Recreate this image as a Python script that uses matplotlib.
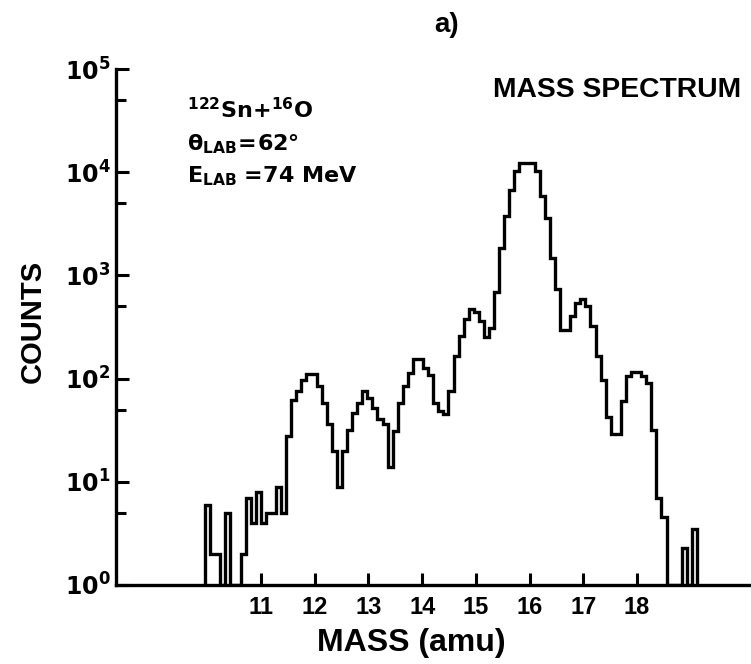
import numpy as np
import matplotlib
matplotlib.use("Agg")
import matplotlib.pyplot as plt
from matplotlib import font_manager
from matplotlib.ticker import LogLocator, NullFormatter, FixedLocator

# channel grid of the mass spectrum (amu)
MASS_START = 9.957
CHANNEL_WIDTH = 0.0944

# counts per channel (0 = empty channel)
COUNTS = [6, 2, 2, 0, 5, 0, 0, 2, 7, 4,
          8, 4, 5, 5, 9, 5, 28, 62, 75, 98,
          111, 111, 84, 58, 36, 20, 9, 20, 32, 46,
          58, 75, 65, 52, 41, 36, 14, 31, 58, 84,
          114, 155, 155, 127, 109, 58, 48, 45, 76, 165,
          258, 374, 475, 440, 360, 253, 306, 684, 1830, 3765,
          6685, 10300, 12400, 12400, 12400, 10230, 5850, 3575, 1485, 731,
          299, 299, 403, 543, 594, 504, 320, 165, 98, 42,
          29, 29, 60, 107, 115, 115, 105, 91, 32, 7,
          4.6, 0, 0, 0, 2.3, 0, 3.5]

X_TICKS = [11, 12, 13, 14, 15, 16, 17, 18]
Y_EXPONENTS = [0, 1, 2, 3, 4, 5]

plt.rcParams['mathtext.fontset'] = 'dejavusans'

names = {f.name for f in font_manager.fontManager.ttflist}
narrow = 'Liberation Sans Narrow' in names

fig = plt.figure(figsize=(7.51, 6.64), dpi=100)
ax = fig.add_axes([116/751, 1-585/664, 635/751, 516/664])

counts = np.maximum(np.array(COUNTS, dtype=float), 1)
edges = MASS_START + CHANNEL_WIDTH * np.arange(len(COUNTS) + 1)
ax.stairs(counts, edges, baseline=1, color='black', lw=2.4, fill=False)

ax.set_yscale('log')
ax.set_ylim(1, 1e5)
ax.set_xlim(8.30, 20.12)

for s in ['top', 'right']:
    ax.spines[s].set_visible(False)
for s in ['left', 'bottom']:
    ax.spines[s].set_linewidth(2.4)

ax.yaxis.set_major_locator(FixedLocator([10.0**e for e in Y_EXPONENTS]))
ax.set_yticklabels([r'$\mathbf{10^{%d}}$' % e for e in Y_EXPONENTS], fontsize=17)
ax.yaxis.set_minor_locator(LogLocator(base=10, subs=[5]))
ax.yaxis.set_minor_formatter(NullFormatter())

ax.set_xticks(X_TICKS)
ax.set_xticklabels([str(t) for t in X_TICKS], family='Liberation Sans',
                   fontweight='bold', fontsize=17)

ax.tick_params(axis='y', which='major', direction='in', length=9, width=2.2, pad=4)
ax.tick_params(axis='y', which='minor', direction='in', length=7, width=2.2)
ax.tick_params(axis='x', which='major', direction='in', length=9, width=2.2, pad=8)

# annotations
txt = dict(fontsize=16, va='baseline', ha='left', transform=ax.transAxes)
ax.text(0.112, 0.905, r'$\mathbf{^{122}Sn{+}^{16}O}$', **txt)
ax.text(0.112, 0.843, r'$\mathbf{\theta_{LAB}\!=\!62°}$', **txt)
ax.text(0.112, 0.781, r'$\mathbf{E_{LAB}\;\!=\!74\ MeV}$', **txt)

fig.text(493/751, 1-97/664, 'MASS SPECTRUM', family='Liberation Sans',
         fontweight='bold', fontsize=20.3, ha='left', va='baseline')
fig.text(447/751, 1-25/664, 'a)', family='Liberation Sans',
         fontweight='bold', fontsize=20, ha='center', va='center')
fig.text(411/751, 1-643/664, 'MASS (amu)', family='Liberation Sans',
         fontweight='bold', fontsize=23, ha='center', va='center')
if narrow:
    fig.text(33/751, 1-321/664, 'COUNTS', family='Liberation Sans Narrow',
             fontweight='bold', fontsize=25, rotation=90, ha='center', va='center')
else:
    fig.text(33/751, 1-321/664, 'COUNTS', family='Liberation Sans',
             fontweight='bold', fontsize=21, rotation=90, ha='center', va='center')

fig.savefig('out.png', dpi=100)
